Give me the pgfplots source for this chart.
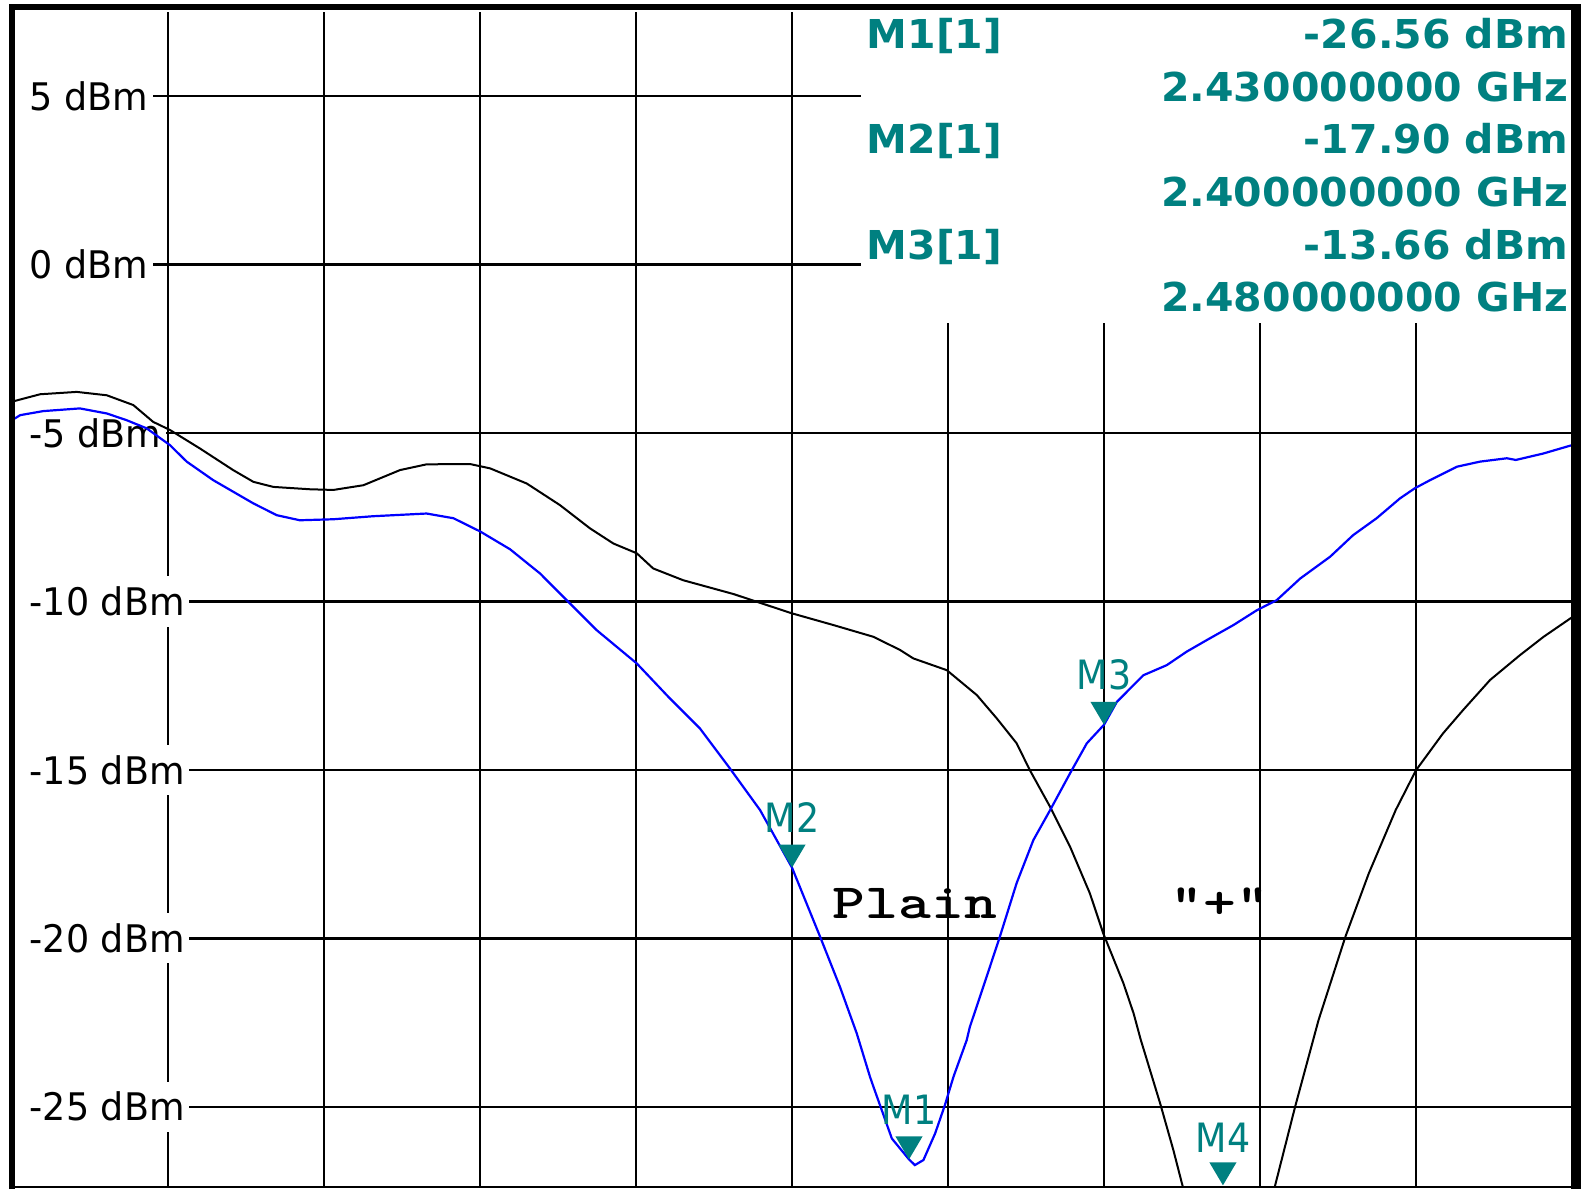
\documentclass[border=0pt]{standalone}
\usepackage{pgfplots}
\pgfplotsset{compat=1.18}
\usepackage{fontspec}
\setmainfont{DejaVu Sans}
\newfontfamily\lblfont[FakeStretch=0.96]{DejaVu Sans}
\newfontfamily\infofont[FakeStretch=1.03]{DejaVu Sans}
\newfontfamily\mkfont[FakeStretch=0.9]{DejaVu Sans}
\newfontfamily\courfont[FakeStretch=1.27,Extension=.otf]{lmmonolt10-bold}
\definecolor{mteal}{RGB}{0,128,128}
\definecolor{tblue}{RGB}{0,0,255}
\pgfdeclareplotmark{dtri}{%
  \pgfpathmoveto{\pgfqpoint{0pt}{0pt}}%
  \pgfpathlineto{\pgfqpoint{-3.4pt}{5.75pt}}%
  \pgfpathlineto{\pgfqpoint{3.4pt}{5.75pt}}%
  \pgfpathclose\pgfusepathqfill}

\pgfplotstableread{
f d
2.2000 -4.07
2.2072 -3.85
2.2166 -3.78
2.2243 -3.88
2.2311 -4.17
2.2362 -4.67
2.2405 -4.91
2.2482 -5.46
2.2567 -6.10
2.2619 -6.45
2.2670 -6.60
2.2764 -6.67
2.2824 -6.69
2.2901 -6.55
2.2995 -6.10
2.3063 -5.93
2.3174 -5.92
2.3226 -6.05
2.3320 -6.50
2.3405 -7.14
2.3482 -7.83
2.3542 -8.28
2.3602 -8.57
2.3644 -9.02
2.3721 -9.37
2.3850 -9.78
2.3910 -10.01
2.3999 -10.35
2.4106 -10.70
2.4209 -11.05
2.4277 -11.44
2.4311 -11.69
2.4397 -12.04
2.4474 -12.78
2.4525 -13.47
2.4576 -14.21
2.4610 -15.01
2.4662 -16.10
2.4713 -17.28
2.4764 -18.67
2.4798 -19.85
2.4850 -21.34
2.4876 -22.23
2.4894 -23.00
2.4944 -24.90
2.4978 -26.29
2.5002 -27.37
2.5050 -28.60
2.5105 -29.20
2.5170 -28.80
2.5238 -27.37
2.5290 -25.00
2.5350 -22.43
2.5419 -19.95
2.5479 -18.07
2.5548 -16.19
2.5600 -15.01
2.5669 -13.92
2.5721 -13.22
2.5790 -12.33
2.5867 -11.59
2.5927 -11.05
2.6000 -10.47
}\plustable

\pgfplotstableread{
f d
2.2000 -4.62
2.2021 -4.47
2.2080 -4.35
2.2174 -4.27
2.2243 -4.42
2.2294 -4.62
2.2345 -4.86
2.2405 -5.36
2.2448 -5.85
2.2516 -6.40
2.2619 -7.09
2.2679 -7.44
2.2738 -7.59
2.2824 -7.56
2.2926 -7.47
2.3063 -7.39
2.3132 -7.53
2.3200 -7.92
2.3277 -8.45
2.3354 -9.17
2.3422 -9.96
2.3499 -10.85
2.3602 -11.84
2.3687 -12.88
2.3764 -13.77
2.3841 -14.96
2.3918 -16.19
2.4000 -17.90
2.4072 -19.95
2.4123 -21.44
2.4166 -22.82
2.4200 -24.11
2.4209 -24.41
2.4256 -25.94
2.4300 -26.56
2.4315 -26.73
2.4337 -26.58
2.4367 -25.79
2.4392 -24.95
2.4414 -24.11
2.4448 -23.02
2.4456 -22.63
2.4499 -21.14
2.4533 -19.95
2.4576 -18.36
2.4619 -17.08
2.4662 -16.19
2.4713 -15.10
2.4756 -14.21
2.4800 -13.66
2.4833 -12.98
2.4901 -12.19
2.4961 -11.89
2.5012 -11.49
2.5063 -11.15
2.5132 -10.70
2.5192 -10.26
2.5243 -9.96
2.5303 -9.32
2.5380 -8.67
2.5439 -8.03
2.5499 -7.53
2.5559 -6.94
2.5597 -6.64
2.5636 -6.40
2.5705 -6.00
2.5764 -5.85
2.5833 -5.75
2.5856 -5.80
2.5926 -5.61
2.6000 -5.36
}\plaintable

\begin{document}
\begin{tikzpicture}
\begin{axis}[
  set layers=standard,
  at={(0,0)}, anchor=south west,
  scale only axis, width=390pt, height=293.78pt,
  xmin=2.2, xmax=2.6, ymin=-27.38, ymax=7.5,
  xtick={2.2,2.24,2.28,2.32,2.36,2.4,2.44,2.48,2.52,2.56,2.6},
  xticklabels={},
  ytick={-25,-20,-15,-10,-5,0,5},
  yticklabels={-25 dBm,-20 dBm,-15 dBm,-10 dBm,-5 dBm,0 dBm,5 dBm},
  major tick length=0pt,
  grid=major,
  major grid style={black, line width=0.6pt},
  axis line style={draw=none},
  yticklabel style={anchor=west, xshift=0pt, fill=white, inner xsep=1.1pt, inner ysep=2.6pt,
    execute at begin node={\kern3.15pt},
    font=\lblfont\fontsize{9.5pt}{11pt}\selectfont, text=black},
]
\addplot[black, line width=0.5pt] table[x=f,y=d] {\plustable};
\addplot[tblue, line width=0.55pt] table[x=f,y=d] {\plaintable};
\addplot[only marks, mark=dtri, mteal] coordinates {(2.43,-26.56) (2.40,-17.90) (2.48,-13.66) (2.5105,-27.33)};
\node[anchor=base, inner sep=0, text=mteal, font=\mkfont\fontsize{10.1pt}{12pt}\selectfont, yshift=8.75pt] at (axis cs:2.43,-26.56) {M1};
\node[anchor=base, inner sep=0, text=mteal, font=\mkfont\fontsize{10.1pt}{12pt}\selectfont, yshift=8.75pt] at (axis cs:2.40,-17.90) {M2};
\node[anchor=base, inner sep=0, text=mteal, font=\mkfont\fontsize{10.1pt}{12pt}\selectfont, yshift=8.75pt] at (axis cs:2.48,-13.66) {M3};
\node[anchor=base, inner sep=0, text=mteal, font=\mkfont\fontsize{10.1pt}{12pt}\selectfont, yshift=8.75pt] at (axis cs:2.5105,-27.38) {M4};
\node[anchor=base west, inner sep=0, font=\courfont\fontsize{12.3pt}{14pt}\selectfont] at (axis cs:2.4103,-19.40) {Plain};
\node[anchor=base west, inner sep=0, font=\courfont\fontsize{12.3pt}{14pt}\selectfont] at (axis cs:2.4969,-19.40) {“+”};
\end{axis}
% marker info box
\fill[white] (212.25pt,216pt) rectangle (390pt,294pt);
\begin{scope}[every node/.style={inner sep=0, text=mteal, font=\infofont\bfseries\fontsize{9.95pt}{12pt}\selectfont}]
\node[anchor=base west] at (213.5pt,284.6pt) {M1[1]};
\node[anchor=base east] at (389.25pt,284.6pt) {-26.56 dBm};
\node[anchor=base east] at (389.25pt,271.45pt) {2.430000000 GHz};
\node[anchor=base west] at (213.5pt,258.3pt) {M2[1]};
\node[anchor=base east] at (389.25pt,258.3pt) {-17.90 dBm};
\node[anchor=base east] at (389.25pt,245.1pt) {2.400000000 GHz};
\node[anchor=base west] at (213.5pt,231.9pt) {M3[1]};
\node[anchor=base east] at (389.25pt,231.9pt) {-13.66 dBm};
\node[anchor=base east] at (389.25pt,218.75pt) {2.480000000 GHz};
\end{scope}
% frame
\draw[line width=1.5pt] (0,-0.5pt) -- (0,295.75pt);
\draw[line width=1.5pt] (-0.75pt,295pt) -- (391pt,295pt);
\fill[black] (389.75pt,-0.5pt) rectangle (392.25pt,295.75pt);
\draw[line width=0.5pt] (0,0) -- (390pt,0);
\pgfresetboundingbox
\useasboundingbox (-3pt,-0.5pt) rectangle (393.25pt,296.75pt);
\end{tikzpicture}
\end{document}
